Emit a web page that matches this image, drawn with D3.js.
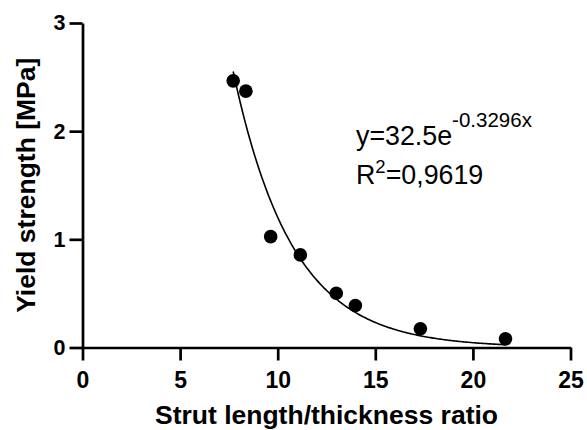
<!DOCTYPE html>
<html>
<head>
<meta charset="utf-8">
<script src="https://cdn.jsdelivr.net/npm/d3@7"></script>
<style>
  html, body { margin: 0; padding: 0; background: #fff; }
  svg { display: block; font-family: "Liberation Sans", Arial, Helvetica, sans-serif; }
</style>
</head>
<body>
<svg id="chart" width="587" height="430"></svg>
<script>
// ---- data ----
const ratio = [7.72, 8.37, 9.64, 11.16, 13.0, 13.98, 17.31, 21.67];
const yieldStrength = [2.465, 2.37, 1.025, 0.856, 0.502, 0.388, 0.173, 0.08];
const xTicks = [0, 5, 10, 15, 20, 25];
const yTicks = [0, 1, 2, 3];
const fitA = 32.5;
const fitB = -0.3296;
const fitR2 = "0,9619";
const xLabel = "Strut length/thickness ratio";
const yLabel = "Yield strength [MPa]";

// ---- layout ----
const svg = d3.select("#chart");
const x = d3.scaleLinear().domain([0, 25]).range([82.5, 570.5]);
const y = d3.scaleLinear().domain([0, 3]).range([347.5, 23]);

// fitted curve
const xs = d3.range(0, 201).map(i => d3.min(ratio) + (d3.max(ratio) - d3.min(ratio)) * i / 200);
const line = d3.line().x(d => x(d)).y(d => y(fitA * Math.exp(fitB * d)));
svg.append("path")
  .datum(xs)
  .attr("d", line)
  .attr("fill", "none")
  .attr("stroke", "#000")
  .attr("stroke-width", 1.6);

// points
svg.append("g").selectAll("circle")
  .data(ratio.map((r, i) => [r, yieldStrength[i]]))
  .join("circle")
  .attr("cx", d => x(d[0]))
  .attr("cy", d => y(d[1]))
  .attr("r", 6.8)
  .attr("fill", "#000");

// axes
const xAxis = svg.append("g")
  .attr("transform", `translate(0,${y(0)})`)
  .call(d3.axisBottom(x).tickValues(xTicks).tickSize(13).tickSizeOuter(0).tickPadding(11).tickFormat(d3.format("d")));
const yAxis = svg.append("g")
  .attr("transform", `translate(${x(0)},0)`)
  .call(d3.axisLeft(y).tickValues(yTicks).tickSize(13).tickSizeOuter(0).tickPadding(4).tickFormat(d3.format("d")));

[xAxis, yAxis].forEach(g => {
  g.select(".domain").attr("stroke", "#000").attr("stroke-width", 2.7);
  g.selectAll(".tick line").attr("stroke", "#000").attr("stroke-width", 2.7);
  g.selectAll(".tick text")
    .attr("fill", "#000")
    .style("font-family", "'Liberation Sans', Arial, sans-serif")
    .style("font-weight", "bold");
});
xAxis.selectAll(".tick text").style("font-size", "23px");
yAxis.selectAll(".tick text").style("font-size", "21.5px");

// axis labels
svg.append("text")
  .attr("x", (x(0) + x(25)) / 2)
  .attr("y", 424)
  .attr("text-anchor", "middle")
  .style("font-weight", "bold")
  .style("font-size", "26.5px")
  .text(xLabel);

svg.append("text")
  .attr("transform", `translate(35,${(y(0) + y(3)) / 2}) rotate(-90)`)
  .attr("text-anchor", "middle")
  .style("font-weight", "bold")
  .style("font-size", "26.5px")
  .text(yLabel);

// equation
const eq = svg.append("text")
  .attr("x", 356)
  .attr("y", 145)
  .style("font-size", "26.8px");
eq.append("tspan").text("y=" + fitA + "e");
eq.append("tspan").attr("dy", -18).style("font-size", "20.5px").text(String(fitB) + "x");

const r2 = svg.append("text")
  .attr("x", 356)
  .attr("y", 184)
  .style("font-size", "26.8px");
r2.append("tspan").text("R");
r2.append("tspan").attr("dy", -11).style("font-size", "18.5px").text("2");
r2.append("tspan").attr("dy", 11).text("=" + fitR2);
</script>
</body>
</html>
